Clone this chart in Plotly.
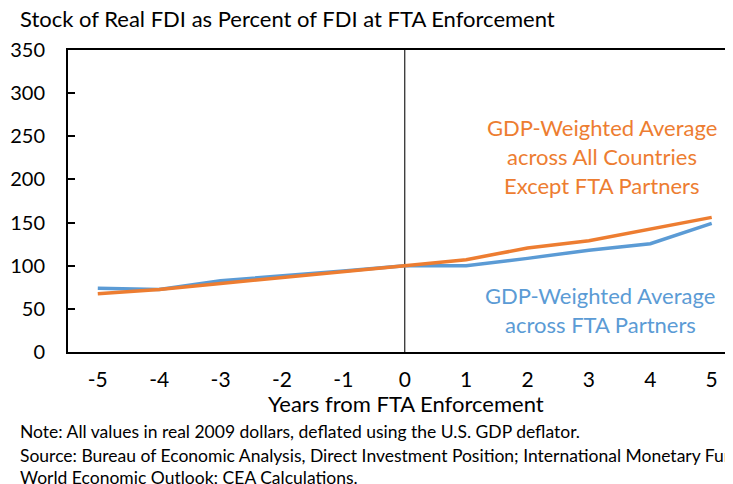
import plotly.graph_objects as go

years = [-5, -4, -3, -2, -1, 0, 1, 2, 3, 4, 5]
fta_partners = [74, 72.5, 82.5, 88, 94, 100, 100, 108.5, 118, 125.5, 149]
all_except = [67.5, 72.5, 79.5, 86, 93, 100, 107, 120.5, 129, 142, 156]
y_ticks = [0, 50, 100, 150, 200, 250, 300, 350]

ORANGE = "#ED7D31"
BLUE = "#5B9BD5"
FONT = "Lato"

OFF = 8  # page body margin offset
W, H = 733 - OFF, 484 - OFF
# plot area in page pixels
L, R, T, B = 67.5, 733, 50.3, 352.3

def px(x):
    return (x - L) / (R - L)

def py(y):
    return (B - y) / (B - T)

fig = go.Figure()
fig.add_trace(go.Scatter(x=years, y=fta_partners, mode="lines",
                         line=dict(color=BLUE, width=3.5), showlegend=False))
fig.add_trace(go.Scatter(x=years, y=all_except, mode="lines",
                         line=dict(color=ORANGE, width=3.5), showlegend=False))

fig.add_shape(type="line", x0=0, x1=0, y0=0, y1=350, xref="x", yref="y",
              line=dict(color="#222222", width=1.2), layer="below")

anns = []
for txt, yy in [("GDP-Weighted Average", 128), ("across All Countries", 157), ("Except FTA Partners", 186)]:
    anns.append(dict(text=txt, x=px(602), y=py(yy), xref="paper", yref="paper",
                     showarrow=False, xanchor="center", yanchor="middle",
                     font=dict(family=FONT, size=22, color=ORANGE)))
for txt, yy in [("GDP-Weighted Average", 296), ("across FTA Partners", 325)]:
    anns.append(dict(text=txt, x=px(600), y=py(yy), xref="paper", yref="paper",
                     showarrow=False, xanchor="center", yanchor="middle",
                     font=dict(family=FONT, size=22, color=BLUE)))
anns.append(dict(text="Stock of Real FDI as Percent of FDI at FTA Enforcement",
                 x=px(17), y=py(19), xref="paper", yref="paper", showarrow=False,
                 xanchor="left", yanchor="middle",
                 font=dict(family=FONT, size=22, color="#000000")))
anns.append(dict(text="Years from FTA Enforcement", x=px(406), y=py(404),
                 xref="paper", yref="paper", showarrow=False,
                 xanchor="center", yanchor="middle",
                 font=dict(family=FONT, size=22, color="#000000")))
for txt, yy in [("Note: All values in real 2009 dollars, deflated using the U.S. GDP deflator.", 432),
                ("Source: Bureau of Economic Analysis, Direct Investment Position; International Monetary Fund,", 456),
                ("World Economic Outlook; CEA Calculations.", 478)]:
    anns.append(dict(text=txt, x=px(17), y=py(yy), xref="paper", yref="paper",
                     showarrow=False, xanchor="left", yanchor="middle",
                     font=dict(family=FONT, size=17.5, color="#000000")))

fig.update_layout(
    width=W, height=H,
    margin=dict(l=L - OFF, r=0, t=T - OFF, b=H - (B - OFF), pad=0),
    paper_bgcolor="white", plot_bgcolor="white",
    annotations=anns,
    xaxis=dict(range=[-5.485, 5 + (R - 711.7) / 61.4], tickvals=years,
               ticktext=[str(v) for v in years], showgrid=False, zeroline=False,
               showline=True, linecolor="#000000", linewidth=2, mirror=True,
               ticks="", ticklabelstandoff=8,
               tickfont=dict(family=FONT, size=21, color="#000000")),
    yaxis=dict(range=[0, 350], tickvals=y_ticks, showgrid=False, zeroline=False,
               showline=True, linecolor="#000000", linewidth=2,
               ticks="inside", ticklen=7, tickwidth=2, tickcolor="#000000",
               ticklabelstandoff=17,
               tickfont=dict(family=FONT, size=20, color="#000000")),
)

fig.write_html("out.html")
